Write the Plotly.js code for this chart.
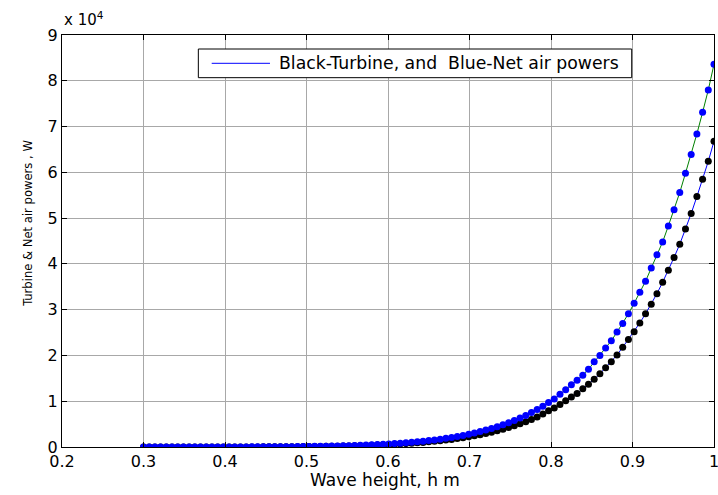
<!DOCTYPE html>
<html>
<head>
<meta charset="utf-8">
<script src="https://cdn.plot.ly/plotly-3.0.1.min.js"></script>
<style>html,body{margin:0;padding:0;background:#fff;}#chart{width:718px;height:495px;}</style>
</head>
<body>
<div id="chart"></div>
<script>
// Wave height, h (m)
const waveHeight = [0.300,0.307,0.314,0.321,0.328,0.335,0.342,0.349,0.356,0.363,0.370,0.377,0.384,0.391,0.398,0.405,0.412,0.419,0.426,0.433,0.440,
  0.447,0.454,0.461,0.468,0.475,0.482,0.489,0.496,0.503,0.510,0.517,0.524,0.531,0.538,0.545,0.552,0.559,0.566,0.573,0.580,0.587,0.594,0.601,0.608,0.615,0.622,0.629,0.636,0.643,0.650,0.657,0.664,0.671,0.678,0.685,0.692,0.699,0.706,0.713,0.720,0.727,0.734,0.741,0.748,0.755,0.762,0.769,0.776,0.783,
  0.790,0.797,0.804,0.811,0.818,0.825,0.832,0.839,0.846,0.853,0.860,0.867,0.874,0.881,0.888,0.895,0.902,0.909,0.916,0.923,0.930,0.937,0.944,0.951,0.958,0.965,0.972,0.979,0.986,0.993,1.000];

// Net air power (blue dots), W
const netPower = [1,1,1.5,2,2,3,3,4,5,6,7,8,9,11,13,15,18,21,25,29,34,
  40,46,53,62,71,81,93,107,122,139,159,180,205,232,262,296,333,375,421,473,530,594,665,740,825,920,1020,1140,1260,1400,1550,1710,1890,2080,2300,2530,2790,3060,3360,3690,4040,4430,4850,5300,5790,6320,6900,7520,8180,
  8900,9700,10500,11500,12500,13600,14600,15700,17000,18600,20000,21600,23200,25100,27000,29100,31400,33800,36200,39100,42000,44800,48300,51800,55600,59800,63900,68400,73100,78000,83600];

// Turbine air power (black dots), W
const turbinePower = [0.8,1,1.2,1.4,1.8,2.1,2.6,3,3.7,4.4,5,6,7,9,10,12,14,17,20,23,27,
  32,37,42,50,57,65,74,86,98,111,127,144,164,186,210,237,266,300,337,378,424,475,530,590,660,740,820,910,1010,1120,1240,1370,1510,1660,1840,2020,2230,2450,2690,2950,3230,3540,3880,4240,4630,5060,5520,6020,6540,
  7200,7900,8500,9300,10100,10900,11700,12700,13700,14800,16000,17300,18600,20100,21800,23500,25200,27100,29100,31200,33500,36000,38600,41400,44300,47600,51000,54700,58500,62400,66800];

const xTickVals = [0.2,0.3,0.4,0.5,0.6,0.7,0.8,0.9,1.0];
const xTickText = ['0.2','0.3','0.4','0.5','0.6','0.7','0.8','0.9','1'];
const yTickVals = [0,10000,20000,30000,40000,50000,60000,70000,80000,90000];
const yTickText = ['0','1','2','3','4','5','6','7','8','9'];

const legendText = 'Black-Turbine, and\u00a0 Blue-Net air powers';
const xTitle = 'Wave height, h m';
const yTitle = 'Turbine & Net air powers , W';
const expLabel = 'x 10<sup>4</sup>';

// ---- font helpers (pick installed fonts, size texts to the reference lengths) ----
const ctx = document.createElement('canvas').getContext('2d');
function textWidth(font, text) { ctx.font = font; return ctx.measureText(text).width; }
function hasFont(name) {
  const t = 'abcdefghijklmnopqrstuvwxyzABCDEFGHIJ0123456789';
  return textWidth("40px '" + name + "', monospace", t) !== textWidth('40px monospace', t) ||
         textWidth("40px '" + name + "', serif", t) !== textWidth('40px serif', t);
}
function pick(list) { for (const f of list) { if (hasFont(f)) return f; } return list[list.length - 1]; }
function fitSize(family, text, targetPx) { return targetPx * 100 / textWidth("100px '" + family + "'", text); }

const WIDE = pick(['DejaVu Sans', 'Liberation Sans']);
const NARROW = pick(['Liberation Sans Narrow', 'DejaVu Sans Condensed', 'Liberation Sans']);
const FONT = "'" + WIDE + "', sans-serif";
const NFONT = "'" + NARROW + "', sans-serif";
const legendSize = Math.min(18, fitSize(WIDE, legendText, 340));
const xTitleSize = Math.min(18, fitSize(WIDE, xTitle, 150));
const yTitleSize = Math.min(17, fitSize(NARROW, yTitle, 166));

const traces = [
  {x: waveHeight, y: turbinePower, mode: 'lines', line: {color: '#0000ff', width: 1}, hoverinfo: 'skip'},
  {x: waveHeight, y: netPower, mode: 'lines', line: {color: '#008000', width: 1}, hoverinfo: 'skip'},
  {x: waveHeight, y: turbinePower, mode: 'markers', marker: {color: '#000000', size: 7}},
  {x: waveHeight, y: netPower, mode: 'markers', marker: {color: '#0000ff', size: 7}}
];

const axisCommon = {
  showline: true, linecolor: '#000', linewidth: 1, mirror: 'ticks',
  ticks: 'inside', ticklen: 5, tickcolor: '#000', tickwidth: 1,
  showgrid: true, gridcolor: '#a8a8a8', gridwidth: 1, zeroline: false,
  ticklabeloverflow: 'allow',
  tickfont: {family: FONT, size: 16, color: '#000'}
};

// plot area: x 62..714 px, y 35..447 px
const layout = {
  width: 718, height: 495,
  margin: {l: 62, r: 4, t: 35, b: 48, pad: 0},
  paper_bgcolor: '#fff', plot_bgcolor: '#fff',
  font: {family: FONT, color: '#000'},
  showlegend: false,
  xaxis: Object.assign({}, axisCommon, {range: [0.2, 1.0], tickmode: 'array', tickvals: xTickVals, ticktext: xTickText}),
  yaxis: Object.assign({}, axisCommon, {range: [0, 90000], tickmode: 'array', tickvals: yTickVals, ticktext: yTickText}),
  shapes: [
    // legend box
    {type: 'rect', xref: 'paper', yref: 'paper', x0: 0.2091, x1: 0.8738, y0: 0.8964, y1: 0.9660,
     fillcolor: '#fff', line: {color: '#000', width: 1}, layer: 'above'},
    // legend line sample (turbine line colour)
    {type: 'line', xref: 'paper', yref: 'paper', x0: 0.2296, x1: 0.3190, y0: 0.9313, y1: 0.9313,
     line: {color: '#0000ff', width: 1}, layer: 'above'}
  ],
  annotations: [
    {text: legendText, xref: 'paper', yref: 'paper', x: 0.3298, y: 0.9313, xanchor: 'left', yanchor: 'middle',
     showarrow: false, font: {family: FONT, size: legendSize, color: '#000'}},
    {text: xTitle, xref: 'paper', yref: 'paper', x: 0.4954, y: -0.079, xanchor: 'center', yanchor: 'middle',
     showarrow: false, font: {family: FONT, size: xTitleSize, color: '#000'}},
    {text: yTitle, xref: 'paper', yref: 'paper', x: -0.054, y: 0.5435, xanchor: 'center', yanchor: 'middle',
     textangle: -90, showarrow: false, font: {family: NFONT, size: yTitleSize, color: '#000'}},
    {text: expLabel, xref: 'paper', yref: 'paper', x: 0, y: 1.01, xanchor: 'left', yanchor: 'bottom',
     showarrow: false, font: {family: FONT, size: 15, color: '#000'}}
  ]
};

Plotly.newPlot('chart', traces, layout, {displayModeBar: false, staticPlot: true});
</script>
</body>
</html>
